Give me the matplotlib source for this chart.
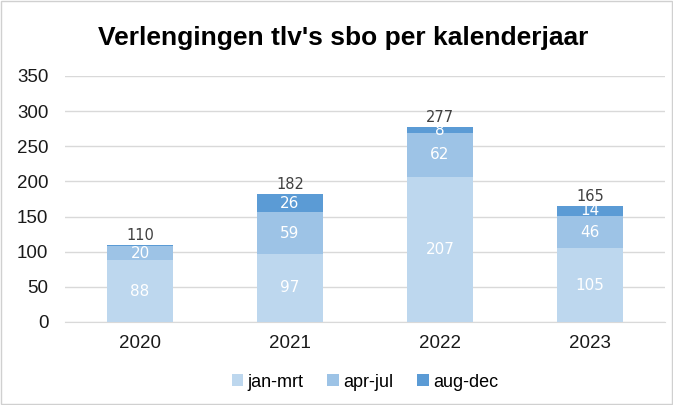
import matplotlib.pyplot as plt
import numpy as np

years = ["2020", "2021", "2022", "2023"]
jan_mrt = [88, 97, 207, 105]
apr_jul = [20, 59, 62, 46]
aug_dec = [2, 26, 8, 14]
series_names = ["jan-mrt", "apr-jul", "aug-dec"]
colors = ["#BDD7EE", "#9DC3E6", "#5B9BD5"]

plt.rcParams["font.family"] = ["Liberation Sans", "DejaVu Sans"]

fig = plt.figure(figsize=(6.73, 4.05), dpi=100)
ax = fig.add_axes([65 / 673, 1 - 322 / 405, 600 / 673, 246 / 405])

x = np.arange(len(years))
width = 0.44
bottom = np.zeros(len(years))
for vals, name, col in zip([jan_mrt, apr_jul, aug_dec], series_names, colors):
    vals = np.array(vals)
    ax.bar(x, vals, width, bottom=bottom, color=col, label=name, zorder=3)
    for xi, b, v in zip(x, bottom, vals):
        if v >= 5:
            ax.text(xi, b + v / 2, str(v), ha="center", va="center",
                    color="white", fontsize=11, family=["DejaVu Sans"], zorder=4)
    bottom += vals

for xi, t in zip(x, bottom):
    ax.text(xi, t + 3, str(int(t)), ha="center", va="bottom",
            color="#404040", fontsize=10.5, family=["DejaVu Sans"])

ax.set_xlim(-0.5, len(years) - 0.5)
ax.set_ylim(0, 350)
ax.set_yticks(range(0, 351, 50))
ax.set_xticks(x)
ax.set_xticklabels(years)
ax.tick_params(axis="both", length=0, labelsize=13.5, colors="#1a1a1a")
ax.tick_params(axis="x", pad=9)
ax.tick_params(axis="y", pad=12)
ax.grid(axis="y", color="#d9d9d9", linewidth=1, zorder=0)
for s in ["top", "right", "left"]:
    ax.spines[s].set_visible(False)
ax.spines["bottom"].set_color("#d9d9d9")

fig.text(0.51, 0.905, "Verlengingen tlv's sbo per kalenderjaar", ha="center",
         va="center", fontsize=19, fontweight="bold")

ax.legend(loc="center", bbox_to_anchor=(0.5, -0.245), ncol=3, frameon=False,
          fontsize=13, handlelength=0.65, handleheight=0.65, handletextpad=0.25,
          columnspacing=1.3)

fig.patches.append(plt.Rectangle((0.002, 0.002), 0.996, 0.996, transform=fig.transFigure,
                                 fill=False, edgecolor="#d0d0d0", linewidth=1))

fig.savefig("out.png", dpi=100)
